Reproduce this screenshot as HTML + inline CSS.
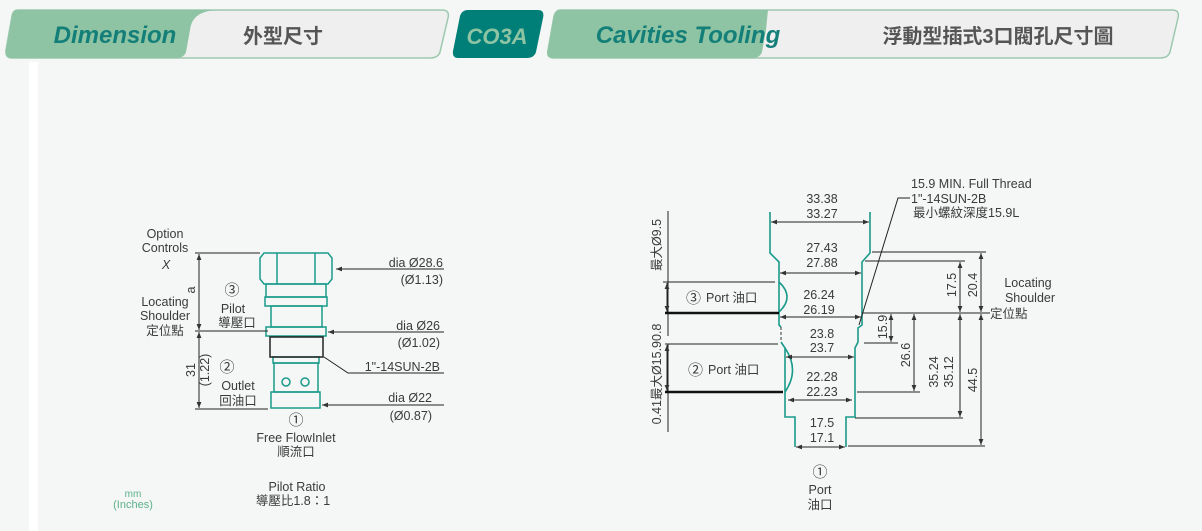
<!DOCTYPE html>
<html><head><meta charset="utf-8"><style>
html,body{margin:0;padding:0;background:#f5f7f7;}
svg{display:block;}
text{font-family:"Liberation Sans","Noto Sans CJK TC",sans-serif;fill:#3a3a3a;font-size:12.5px;}
.c{text-anchor:middle}
.r{text-anchor:end}
</style></head><body>
<svg width="1202" height="531" viewBox="0 0 1202 531" xmlns="http://www.w3.org/2000/svg">
<defs>
<marker id="a" viewBox="0 0 10 10" refX="10" refY="5" markerWidth="9" markerHeight="6" orient="auto-start-reverse"><path d="M0,1 L10,5 L0,9 z" fill="#333"/></marker>
</defs>
<rect x="29" y="62" width="9" height="469" fill="#fff"/>
<!-- header -->
<path d="M18,10 H442 Q450,10 448,18 L440,52 Q438,58 430,58 H12 Q5,58 6,50 L12,16 Q13,10 18,10 Z" fill="#efefef" stroke="#9cc9ad" stroke-width="1.5"/>
<path d="M18,10 H220 Q192,10 190,30 L186,52 Q184,58 176,58 H12 Q5,58 6,50 L12,16 Q13,10 18,10 Z" fill="#8ec4a3"/>
<text x="115" y="43" class="c" style="font-size:24px;font-style:italic;font-weight:bold;fill:#137f78">Dimension</text>
<text x="283" y="43" class="c" style="font-size:20px;font-weight:bold;fill:#555">外型尺寸</text>
<path d="M468,10 H538 Q545,10 543,18 L536,52 Q534,58 527,58 H458 Q452,58 453,51 L460,16 Q462,10 468,10 Z" fill="#007f78"/>
<text x="497" y="44" class="c" style="font-size:22px;font-style:italic;font-weight:bold;fill:#8ec4a3;font-family:'Liberation Sans Narrow','Liberation Sans',sans-serif">CO3A</text>
<path d="M560,10 H1172 Q1180,10 1178,18 L1170,52 Q1168,58 1160,58 H554 Q546,58 548,50 L554,16 Q556,10 560,10 Z" fill="#efefef" stroke="#9cc9ad" stroke-width="1.5"/>
<path d="M560,10 H768 Q768,10 766,30 L762,52 Q760,58 752,58 H554 Q546,58 548,50 L554,16 Q556,10 560,10 Z" fill="#8ec4a3"/>
<text x="688" y="43" class="c" style="font-size:24px;font-style:italic;font-weight:bold;fill:#137f78">Cavities Tooling</text>
<text x="998" y="43" class="c" style="font-size:20px;font-weight:bold;fill:#555">浮動型插式3口閥孔尺寸圖</text>

<!-- LEFT DRAWING -->
<g fill="none" stroke="#1a9a8a" stroke-width="1.5">
<path d="M260,258 L264,253 H328 L332,258 V279 L328,284 H264 L260,279 Z"/>
<line x1="277" y1="253" x2="277" y2="284"/><line x1="315" y1="253" x2="315" y2="284"/>
<rect x="266" y="284" width="60" height="13"/>
<rect x="265" y="297" width="62" height="9"/>
<rect x="271" y="306" width="51" height="21"/>
<rect x="266" y="327" width="60" height="9"/>
<rect x="273" y="357" width="46" height="6"/>
<rect x="274" y="363" width="44" height="29"/>
<circle cx="286" cy="382" r="4"/><circle cx="305" cy="382" r="4"/>
<rect x="271" y="392" width="49" height="16"/>
</g>
<rect x="270" y="337" width="53" height="20" style="fill:none" stroke="#222" stroke-width="1.5"/>
<g stroke="#222" stroke-width="1" fill="none">
<line x1="195" y1="253" x2="260" y2="253"/>
<line x1="195" y1="331" x2="268" y2="331"/>
<line x1="195" y1="409" x2="268" y2="409"/>
<line x1="199" y1="254" x2="199" y2="330" marker-start="url(#a)" marker-end="url(#a)"/>
<line x1="199" y1="332" x2="199" y2="408" marker-start="url(#a)" marker-end="url(#a)"/>
<line x1="444" y1="269" x2="336" y2="269" marker-end="url(#a)"/>
<line x1="444" y1="332" x2="328" y2="332" marker-end="url(#a)"/>
<polyline points="444,373 348,373 324,357"/>
<line x1="444" y1="405" x2="322" y2="405" marker-end="url(#a)"/>
</g>
<text x="165" y="238" class="c">Option</text>
<text x="165" y="252" class="c">Controls</text>
<text x="166" y="269" class="c" style="font-style:italic">X</text>
<text x="165" y="306" class="c">Locating</text>
<text x="165" y="320" class="c">Shoulder</text>
<text x="165" y="335" class="c">定位點</text>
<text transform="translate(195,290) rotate(-90)" class="c">a</text>
<text transform="translate(195,370) rotate(-90)" class="c">31</text>
<text transform="translate(209,370) rotate(-90)" class="c">(1.22)</text>
<text x="232" y="295" class="c" style="font-size:15px">③</text>
<text x="233" y="313" class="c">Pilot</text>
<text x="237" y="327" class="c">導壓口</text>
<text x="227" y="372" class="c" style="font-size:15px">②</text>
<text x="238" y="390" class="c">Outlet</text>
<text x="238" y="405" class="c">回油口</text>
<text x="443" y="267" class="r">dia  Ø28.6</text>
<text x="443" y="284" class="r">(Ø1.13)</text>
<text x="440" y="330" class="r">dia  Ø26</text>
<text x="440" y="347" class="r">(Ø1.02)</text>
<text x="440" y="371" class="r">1"-14SUN-2B</text>
<text x="432" y="402" class="r">dia  Ø22</text>
<text x="432" y="420" class="r">(Ø0.87)</text>
<text x="296" y="425" class="c" style="font-size:15px">①</text>
<text x="296" y="442" class="c">Free FlowInlet</text>
<text x="296" y="456" class="c">順流口</text>
<text x="297" y="491" class="c">Pilot Ratio</text>
<text x="293" y="505" class="c">導壓比1.8：1</text>
<text x="133" y="497" class="c" style="font-size:10px;fill:#5bb08a">mm</text>
<text x="133" y="508" class="c" style="font-size:11px;fill:#5bb08a">(Inches)</text>

<!-- RIGHT DRAWING -->
<g fill="none" stroke="#1a9a8a" stroke-width="1.6">
<polyline points="770,212 770,253 779,262 779,325 781,327"/>
<polyline points="781,342 785,348 785,417 795,417 795,447"/>
<polyline points="870,212 870,253 862,262 862,325 858,328 858,342 855,348 855,417 846,417 846,447"/>
<path d="M779,282 Q795,297 779,312"/>
<path d="M785,348 Q800,370 785,392"/>
</g>
<line x1="781" y1="327" x2="781" y2="342" stroke="#333" stroke-dasharray="3,2"/>
<g stroke="#222" stroke-width="1" fill="none">
<line x1="771" y1="222" x2="869" y2="222" marker-start="url(#a)" marker-end="url(#a)"/>
<line x1="780" y1="273" x2="861" y2="273" marker-start="url(#a)" marker-end="url(#a)"/>
<line x1="780" y1="317" x2="861" y2="317" marker-start="url(#a)" marker-end="url(#a)"/>
<line x1="786" y1="357" x2="854" y2="357" marker-start="url(#a)" marker-end="url(#a)"/>
<line x1="788" y1="400" x2="852" y2="400" marker-start="url(#a)" marker-end="url(#a)"/>
<line x1="796" y1="447" x2="845" y2="447" marker-start="url(#a)" marker-end="url(#a)"/>
<line x1="872" y1="252" x2="986" y2="252"/>
<line x1="865" y1="261" x2="965" y2="261"/>
<line x1="862" y1="313" x2="990" y2="313"/>
<line x1="864" y1="343" x2="898" y2="343"/>
<line x1="857" y1="392" x2="920" y2="392"/>
<line x1="855" y1="418" x2="963" y2="418"/>
<line x1="848" y1="446" x2="985" y2="446"/>
<line x1="960" y1="262" x2="960" y2="312" marker-start="url(#a)" marker-end="url(#a)"/>
<line x1="981" y1="253" x2="981" y2="312" marker-start="url(#a)" marker-end="url(#a)"/>
<line x1="891" y1="314" x2="891" y2="342" marker-start="url(#a)" marker-end="url(#a)"/>
<line x1="914" y1="314" x2="914" y2="391" marker-start="url(#a)" marker-end="url(#a)"/>
<line x1="960" y1="314" x2="960" y2="417" marker-start="url(#a)" marker-end="url(#a)"/>
<line x1="981" y1="314" x2="981" y2="445" marker-start="url(#a)" marker-end="url(#a)"/>
<polyline points="910,198 898,198 859,325"/>
<line x1="668" y1="211" x2="668" y2="336"/>
<line x1="668" y1="344" x2="668" y2="432"/>
<line x1="663" y1="282" x2="775" y2="282"/>
<line x1="665" y1="344" x2="778" y2="344"/>
<line x1="667" y1="283" x2="667" y2="312" marker-start="url(#a)" marker-end="url(#a)"/>
<line x1="667" y1="345" x2="667" y2="391" marker-start="url(#a)" marker-end="url(#a)"/>
</g>
<line x1="665" y1="313" x2="779" y2="313" stroke="#111" stroke-width="2.5"/>
<line x1="665" y1="392" x2="783" y2="392" stroke="#111" stroke-width="2.5"/>
<text x="822" y="203" class="c">33.38</text><text x="822" y="218" class="c">33.27</text>
<text x="822" y="252" class="c">27.43</text><text x="822" y="267" class="c">27.88</text>
<text x="819" y="299" class="c">26.24</text><text x="819" y="314" class="c">26.19</text>
<text x="822" y="338" class="c">23.8</text><text x="822" y="352" class="c">23.7</text>
<text x="822" y="381" class="c">22.28</text><text x="822" y="396" class="c">22.23</text>
<text x="822" y="427" class="c">17.5</text><text x="822" y="442" class="c">17.1</text>
<text x="911" y="188">15.9 MIN. Full Thread</text>
<text x="911" y="203">1"-14SUN-2B</text>
<text x="913" y="217">最小螺紋深度15.9L</text>
<text x="1028" y="287" class="c">Locating</text>
<text x="1030" y="302" class="c">Shoulder</text>
<text x="990" y="318">定位點</text>
<text transform="translate(956,285) rotate(-90)" class="c">17.5</text>
<text transform="translate(977,285) rotate(-90)" class="c">20.4</text>
<text transform="translate(887,327) rotate(-90)" class="c">15.9</text>
<text transform="translate(910,355) rotate(-90)" class="c">26.6</text>
<text transform="translate(938,372) rotate(-90)" class="c">35.24</text>
<text transform="translate(953,372) rotate(-90)" class="c">35.12</text>
<text transform="translate(977,380) rotate(-90)" class="c">44.5</text>
<text transform="translate(661,245) rotate(-90)" class="c">最大Ø9.5</text>
<text transform="translate(661,374) rotate(-90)" class="c">0.41最大Ø15.90.8</text>
<text x="686" y="303" style="font-size:15px">③</text><text x="706" y="302">Port 油口</text>
<text x="688" y="375" style="font-size:15px">②</text><text x="708" y="374">Port 油口</text>
<text x="820" y="477" class="c" style="font-size:15px">①</text>
<text x="820" y="494" class="c">Port</text>
<text x="820" y="509" class="c">油口</text>
</svg>
</body></html>
